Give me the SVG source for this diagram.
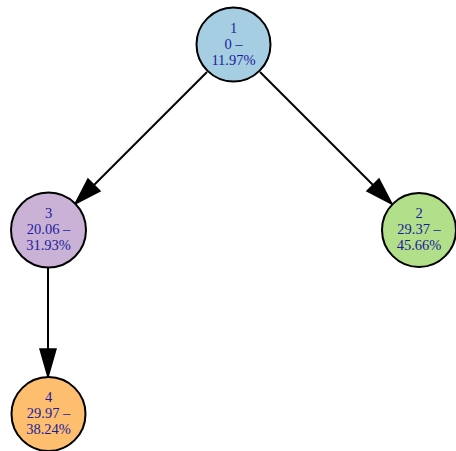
<svg xmlns="http://www.w3.org/2000/svg" width="456" height="451" viewBox="0 0 456 451">
<style>
.n{stroke:#000;stroke-width:2}
.t{font-family:"Liberation Serif","Times New Roman",serif;font-size:14.5px;fill:#1c1c9c;text-anchor:middle}
.e{stroke:#000;stroke-width:2;fill:none}
.h{fill:#000;stroke:#000;stroke-width:1.5}
</style>
<rect width="456" height="451" fill="#fff"/>
<g id="edges">
<g id="e1-3"><line class="e" x1="207" y1="72" x2="93" y2="186"/><polygon class="h" points="75,204 88,179 100,191"/></g>
<g id="e1-2"><line class="e" x1="260" y1="72" x2="374" y2="186"/><polygon class="h" points="392,204 367,191 379,179"/></g>
<g id="e3-4"><line class="e" x1="48" y1="268" x2="48" y2="352"/><polygon class="h" points="48,377 40,349 56,349"/></g>
</g>
<g id="n1"><circle class="n" cx="233.5" cy="44.5" r="37" fill="#a6cee3"/><text class="t" x="233.5" y="33">1</text><text class="t" x="233.5" y="49">0 –</text><text class="t" x="233.5" y="65">11.97%</text></g>
<g id="n3"><circle class="n" cx="48.5" cy="230" r="37.5" fill="#cab2d6"/><text class="t" x="48.5" y="218">3</text><text class="t" x="48.5" y="234">20.06 –</text><text class="t" x="48.5" y="250">31.93%</text></g>
<g id="n2"><circle class="n" cx="419" cy="230" r="37" fill="#b2df8a"/><text class="t" x="419" y="218">2</text><text class="t" x="419" y="234">29.37 –</text><text class="t" x="419" y="250">45.66%</text></g>
<g id="n4"><circle class="n" cx="48.5" cy="414" r="37" fill="#fdbf6f"/><text class="t" x="48.5" y="402">4</text><text class="t" x="48.5" y="418">29.97 –</text><text class="t" x="48.5" y="434">38.24%</text></g>
</svg>
